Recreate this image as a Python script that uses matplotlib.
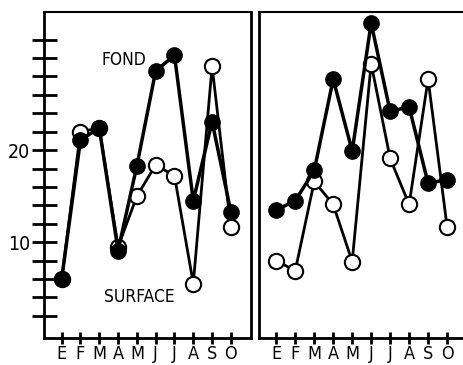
import matplotlib.pyplot as plt

# month labels (E = enero ... O = octubre)
months = ['E', 'F', 'M', 'A', 'M', 'J', 'J', 'A', 'S', 'O']
x = list(range(1, 11))

# left panel
fond_left = [6.0, 21.1, 22.4, 9.1, 18.3, 28.6, 30.3, 14.5, 23.1, 13.3]
surf_left = [6.0, 22.0, 22.4, 9.5, 15.0, 18.4, 17.2, 5.5, 29.1, 11.6]

# right panel
fond_right = [13.5, 14.5, 17.8, 27.7, 19.9, 33.8, 24.2, 24.7, 16.4, 16.8]
surf_right = [8.0, 6.9, 16.6, 14.1, 7.9, 29.4, 19.1, 14.1, 27.7, 11.7]

yticks_minor = list(range(2, 34, 2))
ytick_labels = {10: '10', 20: '20'}

plt.rcParams['font.family'] = ['DejaVu Sans']
plt.rcParams['font.stretch'] = 'condensed'

fig = plt.figure(figsize=(4.63, 3.65), dpi=100)
ax1 = fig.add_axes([44 / 463, 1 - 338 / 365, 207 / 463, 326 / 365])
ax2 = fig.add_axes([259 / 463, 1 - 338 / 365, 208 / 463, 326 / 365])


def draw(ax, fond, surf, x0, x1):
    ax.plot(x, surf, color='k', lw=2, marker='o', ms=11, mfc='white',
            mec='k', mew=1.5, zorder=3)
    ax.plot(x, fond, color='k', lw=2.5, marker='o', ms=11, mfc='k',
            mec='k', zorder=4)
    ax.set_xlim(x0, x1)
    ax.set_ylim(-0.4, 35)
    ax.set_xticks(x)
    ax.set_xticklabels(months, fontsize=13)
    ax.tick_params(axis='x', direction='inout', length=8, width=2, pad=1)
    for s in ax.spines.values():
        s.set_linewidth(2)
    ax.spines['top'].set_linewidth(1.5)


draw(ax1, fond_left, surf_left, 0.06, 11.07)
draw(ax2, fond_right, surf_right, 0.09, 11.05)

ax1.set_yticks(yticks_minor)
ax1.set_yticklabels([ytick_labels.get(v, '') for v in yticks_minor], fontsize=14)
ax1.tick_params(axis='y', direction='inout', length=18, width=2, pad=1)
ax2.set_yticks([])

ax1.text(4.31, 29.8, 'FOND', fontsize=12.5, ha='center', va='center')
ax1.text(5.11, 4.05, 'SURFACE', fontsize=12.5, ha='center', va='center')

fig.savefig('out.png', dpi=100)
